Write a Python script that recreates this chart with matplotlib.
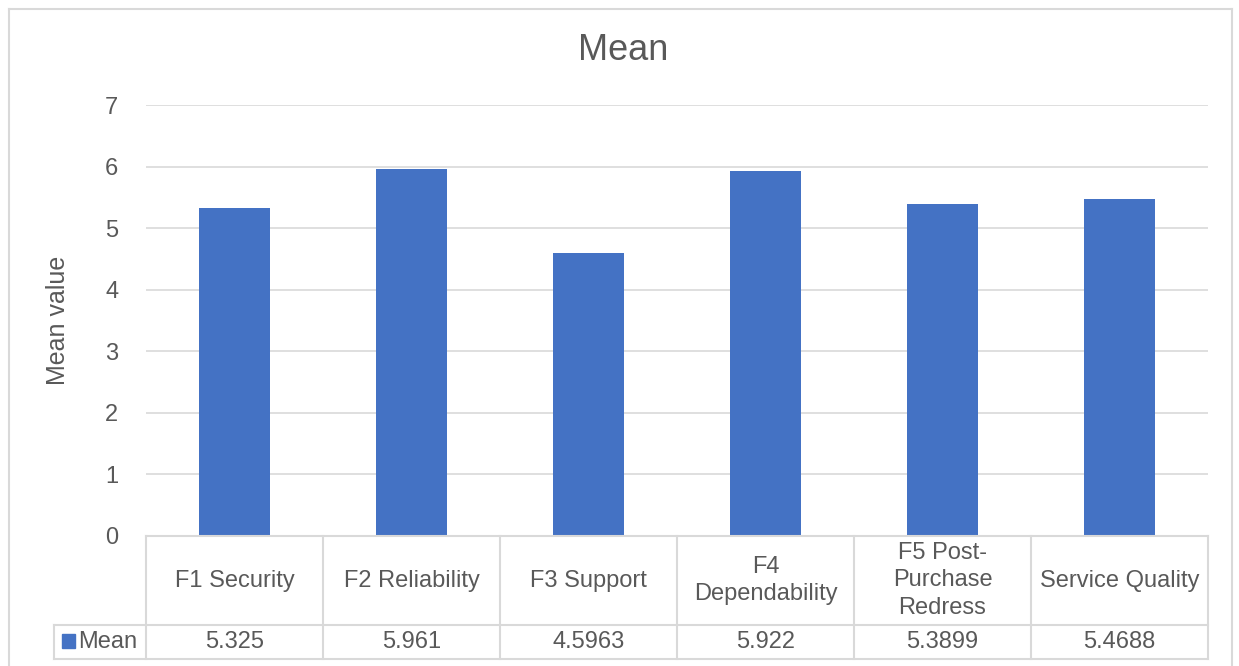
import matplotlib
matplotlib.use("Agg")
import matplotlib.pyplot as plt
from matplotlib import transforms
from matplotlib.lines import Line2D
from matplotlib.patches import Rectangle

# Médias por fator
categorias = ["F1 Security", "F2 Reliability", "F3 Support", "F4\nDependability",
              "F5 Post-\nPurchase\nRedress", "Service Quality"]
medias = [5.325, 5.961, 4.5963, 5.922, 5.3899, 5.4688]
rotulos_medias = ["%g" % v for v in medias]
nome_serie = "Mean"
ticks_y = list(range(0, 8))

AZUL = "#4472C4"
CINZA_TEXTO = "#595959"
CINZA_LINHA = "#D9D9D9"

LARGURA, ALTURA = 1239, 666
plt.rcParams["font.family"] = ["Liberation Sans", "DejaVu Sans"]


def fx(px):
    return px / LARGURA


def fy(py):
    return 1 - py / ALTURA


fig = plt.figure(figsize=(LARGURA / 100, ALTURA / 100), dpi=100)

ax = fig.add_axes([fx(146), fy(536), fx(1208) - fx(146), fy(105) - fy(536)])
posicoes = list(range(len(categorias)))
ax.bar(posicoes, medias, width=0.4, color=AZUL, zorder=3)
ax.set_xlim(-0.5, len(categorias) - 0.5)
ax.set_ylim(0, 7)
ax.set_yticks(ticks_y)
ax.set_xticks([])
ax.yaxis.grid(True, color=CINZA_LINHA, linewidth=1.2)
ax.set_axisbelow(True)
for lado in ax.spines.values():
    lado.set_visible(False)
ax.tick_params(axis="y", length=0, pad=20, labelsize=17, labelcolor=CINZA_TEXTO)

fig.text(fx(623), fy(50), "Mean", fontsize=26, color=CINZA_TEXTO, ha="center", va="center")
fig.text(fx(58), fy(320), "Mean value", fontsize=18, color=CINZA_TEXTO,
         rotation=90, ha="center", va="center")

# Tabela de dados abaixo do eixo
mistura = transforms.blended_transform_factory(ax.transData, fig.transFigure)
y_topo, y_meio, y_base = 536, 625, 659
x_legenda = 54
estilo = dict(color=CINZA_LINHA, linewidth=1.5)

fig.add_artist(Line2D([-0.5, len(categorias) - 0.5], [fy(y_topo)] * 2, transform=mistura, **estilo))
for y in (y_meio, y_base):
    fig.add_artist(Line2D([fx(x_legenda), fx(1208)], [fy(y)] * 2, transform=fig.transFigure, **estilo))
for i in range(len(categorias) + 1):
    fig.add_artist(Line2D([i - 0.5] * 2, [fy(y_topo), fy(y_base)], transform=mistura, **estilo))
fig.add_artist(Line2D([fx(x_legenda)] * 2, [fy(y_meio), fy(y_base)], transform=fig.transFigure, **estilo))

for i, (cat, rotulo) in enumerate(zip(categorias, rotulos_medias)):
    ax.text(i, fy((y_topo + y_meio) / 2), cat, transform=mistura, ha="center", va="center",
            fontsize=17, color=CINZA_TEXTO, linespacing=1.3)
    ax.text(i, fy((y_meio + y_base) / 2), rotulo, transform=mistura, ha="center", va="center",
            fontsize=17, color=CINZA_TEXTO)

fig.add_artist(Rectangle((fx(62), fy(648)), fx(13), fy(634) - fy(648),
                         transform=fig.transFigure, color=AZUL))
fig.text(fx(78), fy((y_meio + y_base) / 2), nome_serie, fontsize=17, color=CINZA_TEXTO,
         ha="left", va="center")

# Moldura externa do gráfico
borda = dict(color=CINZA_LINHA, linewidth=1.5, transform=fig.transFigure)
fig.add_artist(Line2D([fx(9), fx(9)], [fy(9), 0], **borda))
fig.add_artist(Line2D([fx(9), fx(1232)], [fy(9), fy(9)], **borda))
fig.add_artist(Line2D([fx(1232), fx(1232)], [fy(9), 0], **borda))

fig.savefig("out.png", dpi=100)
plt.close(fig)
